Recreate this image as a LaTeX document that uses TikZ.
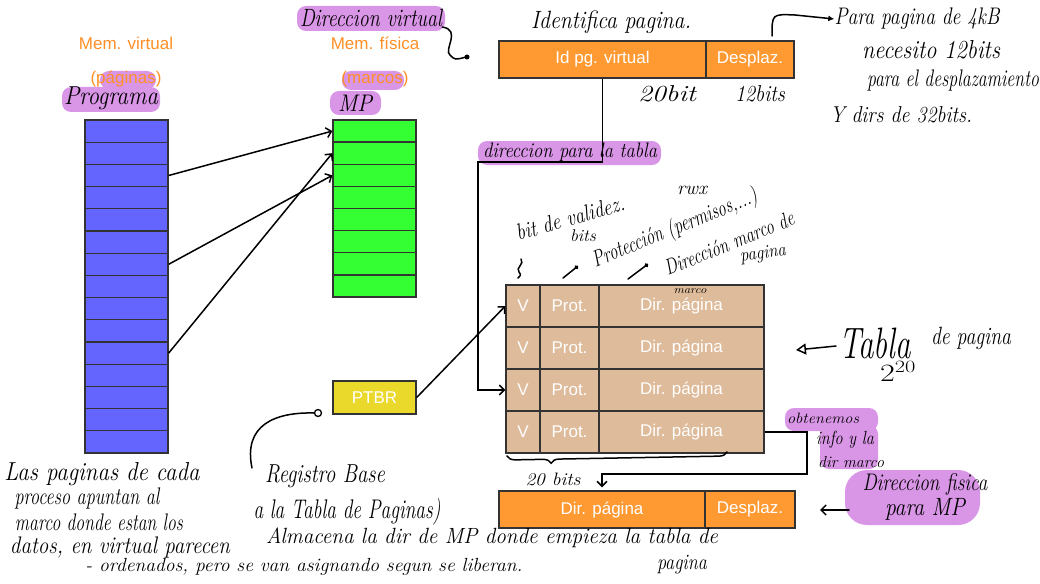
\documentclass[tikz,border=0pt]{standalone}
\usepackage{fontspec}
\newfontfamily\sansf{Liberation Sans}
\usetikzlibrary{arrows.meta,decorations.pathreplacing}
\definecolor{memorange}{HTML}{FF8F26}
\definecolor{hl}{HTML}{D995E6}
\definecolor{bluec}{HTML}{6464FF}
\definecolor{greenc}{HTML}{33FF33}
\definecolor{tanc}{HTML}{DEBB9B}
\definecolor{orangec}{HTML}{FF9A33}
\definecolor{yellowc}{HTML}{EAD82B}
\newcommand{\typed}{\sansf\fontsize{17}{20}\selectfont}
\newcommand{\hw}[3]{\resizebox{#1pt}{\height}{\fontsize{#2}{#2}\selectfont\itshape #3}}
\begin{document}
\begin{tikzpicture}[x=1pt,y=-1pt,
  cellbase/.style={draw=black!80, line width=1.3pt, inner sep=0pt, text=white, font=\typed},
  bluecell/.style={cellbase, fill=bluec, minimum width=83pt, minimum height=22.2pt},
  greencell/.style={cellbase, fill=greenc, minimum width=83pt, minimum height=22.1pt},
  tancell/.style={cellbase, fill=tanc, minimum height=42pt},
  orangecell/.style={cellbase, fill=orangec, minimum height=37pt},
  memlabel/.style={text=memorange, font=\typed, inner sep=0pt},
  hand/.style={inner sep=0pt, text=black},
  hlbox/.style={fill=hl, rounded corners=9pt},
  arr/.style={-{Straight Barb[length=5pt,width=10pt]}, line width=1.5pt},
  pen/.style={line width=1.5pt, line cap=round}]
\useasboundingbox (0,0) rectangle (1040,583);
% highlights
\fill[hlbox] (297,6) rectangle (445,31);
\fill[hlbox] (100,71) rectangle (156,89);
\fill[hlbox] (62,87) rectangle (160,112);
\fill[hlbox] (342,71) rectangle (404,90);
\fill[hlbox] (330,91) rectangle (381,115);
\fill[hlbox] (478,141) rectangle (661,165);
\fill[hlbox] (785,408) rectangle (878,431);
\fill[hlbox] (820,425) rectangle (878,469);
\fill[hl, rounded corners=22pt] (845,470) rectangle (980,525);
% memory labels
\node[memlabel] (mv) at (126,43) {Mem. virtual};
\node[memlabel] (pg) at (126,79) {(páginas)};
\node[memlabel] (mf) at (375,43) {Mem. física};
\node[memlabel] (mc) at (375,79) {(marcos)};
\node[hand] (prog) at (111,98) {\hw{94}{26}{Programa}};
\node[hand] (mp) at (355,103) {\hw{34}{24}{MP}};
\node[hand] (dirv) at (371,18) {\hw{142}{25}{Direccion virtual}};
% blue column
\foreach \i in {1,...,15} \node[bluecell] (b\i) at (126.5,{120+22.2*(\i-0.5)}) {};
% green column
\foreach \i in {1,...,8} \node[greencell] (g\i) at (374.5,{120+22.125*(\i-0.5)}) {};
% PTBR
\node[cellbase, fill=yellowc, minimum width=83pt, minimum height=33pt] (ptbr) at (374.5,397.5) {PTBR};
% top address
\node[orangecell, minimum width=207pt] (idv) at (602.5,59.5) {Id pg. virtual};
\node[orangecell, minimum width=88pt] (desp) at (750,59.5) {Desplaz.};
% bottom address
\node[orangecell, minimum width=206pt] (dirp) at (602,509.5) {Dir. página};
\node[orangecell, minimum width=90pt] (desp2) at (750,509.5) {Desplaz.};
% page table
\foreach \i/\y in {1/306,2/348,3/390,4/432} {
  \node[tancell, minimum width=34pt] (v\i) at (523,\y) {V};
  \node[tancell, minimum width=59pt] (p\i) at (569.5,\y) {Prot.};
  \node[tancell, minimum width=165pt] (d\i) at (681.5,\y) {Dir. página};
}
% connectors
\draw[arr] (b3.east) -- (g1.west);
\draw[arr] (b7.east) -- (g3.west);
\draw[arr] (b11.east) -- (g2.west);
\draw[arr] (ptbr.east) -- (v1.west);
\coordinate (ta) at (478,162);
\draw[arr] (idv.south) |- (ta) |- (v3.west);
\coordinate (tb) at (807,474);
\draw[arr, shorten >=3pt] (d4.east) -| (tb) -| (dirp.north);
% handwritten notes
\node[hand] (ident) at (611,22) {\hw{160}{25}{Identifica pagina.}};
\node[hand] (b20) at (667,94) {\hw{58}{23}{20bit}};
\node[hand] (b12) at (760,94) {\hw{50}{23}{12bits}};
\node[hand] (n1) at (917,19) {\hw{165}{24}{Para pagina de 4kB}};
\node[hand] (n2) at (931,50) {\hw{138}{26}{necesito 12bits}};
\node[hand] (n3) at (953,81) {\hw{172}{24}{para el desplazamiento}};
\node[hand] (n4) at (901,115) {\hw{142}{23}{Y dirs de 32bits.}};
\coordinate (dsa) at (772,36);
\draw[pen, -{Latex[length=6pt,width=6pt]}] (dsa) .. controls (772,14) .. (795,15) -- (n1.west);
\draw[pen] (dirv.south east) .. controls (462,30) and (443,50) .. (450,55) .. controls (455,60) .. (466,57);
\fill (467,57) circle (2.5);
\node[hand] (dtab) at (570,152) {\hw{174}{21}{direccion para la tabla}};
\node[hand, rotate=16] (bval) at (570,218) {\hw{112}{23}{bit de validez.}};
\node[hand] (rwx) at (692,190) {\hw{30}{19}{rwx}};
\node[hand] (bits) at (583,236) {\hw{26}{17}{bits}};
\node[hand, rotate=22] (prot) at (675,229) {\hw{176}{23}{Protección (permisos,...)}};
\node[hand, rotate=22] (dmarco) at (729,243) {\hw{138}{22}{Dirección marco de}};
\node[hand, rotate=8] (pgn) at (763,254) {\hw{46}{19}{pagina}};
\node[hand] (marco) at (690,291) {\hw{33}{11}{marco}};
\draw[pen] (521,259) .. controls (525,264) and (515,268) .. (519,272) .. controls (521,275) .. (518,278);
\draw[pen, -{Circle[length=4pt]}] (563,278) -- (578,266);
\draw[pen, -{Circle[length=4pt]}] (628,279) -- (648,264);
\draw[pen, decorate, decoration={brace, mirror, amplitude=8pt, aspect=0.2}] (507,456) -- (727,452);
\node[hand] (b20b) at (553,479) {\hw{55}{18}{20 bits}};
\node[hand] (tabla) at (875,343) {\hw{72}{44}{Tabla}};
\node[hand] (depag) at (971,338) {\hw{80}{25}{de pagina}};
\node[hand] (pow) at (898,371) {\hw{36}{26}{$2^{20}$}};
\draw[pen, -{Triangle[open,length=10pt,width=11pt]}] (836,346) -- (796,350);
\node[hand] (ob1) at (823,418) {\hw{72}{15}{obtenemos}};
\node[hand] (ob2) at (845,440) {\hw{58}{19}{info y la}};
\node[hand] (ob3) at (851,462) {\hw{66}{16}{dir marco}};
\node[hand] (df1) at (925,484) {\hw{125}{24}{Direccion fisica}};
\node[hand] (df2) at (925,509) {\hw{80}{25}{para MP}};
\coordinate (dfa) at (849,510);
\draw[pen, -{Straight Barb[length=5pt,width=10pt]}] (dfa) -- (820,510);
% bottom left notes
\node[hand] (l1) at (102,474) {\hw{195}{26}{Las paginas de cada}};
\node[hand] (l2) at (87,498) {\hw{145}{24}{proceso apuntan al}};
\node[hand] (l3) at (99,522) {\hw{168}{24}{marco donde estan los}};
\node[hand] (l4) at (120,547) {\hw{220}{24}{datos, en virtual parecen}};
\node[hand] (l5) at (304,567) {\hw{437}{19}{- ordenados, pero se van asignando segun se liberan.}};
\node[hand] (rb1) at (325,476) {\hw{120}{26}{Registro Base}};
\node[hand] (rb2) at (347,512) {\hw{187}{27}{a la Tabla de Paginas)}};
\node[hand] (rb3) at (492,538) {\hw{452}{22}{Almacena la dir de MP donde empieza la tabla de}};
\node[hand] (rb4) at (682,565) {\hw{50}{22}{pagina}};
\coordinate (rbs) at (252,468);
\draw[pen] (rbs) .. controls (243,425) and (275,412) .. (314,413);
\draw[line width=1.3pt] (318,413) circle (3.5);
\end{tikzpicture}
\end{document}
